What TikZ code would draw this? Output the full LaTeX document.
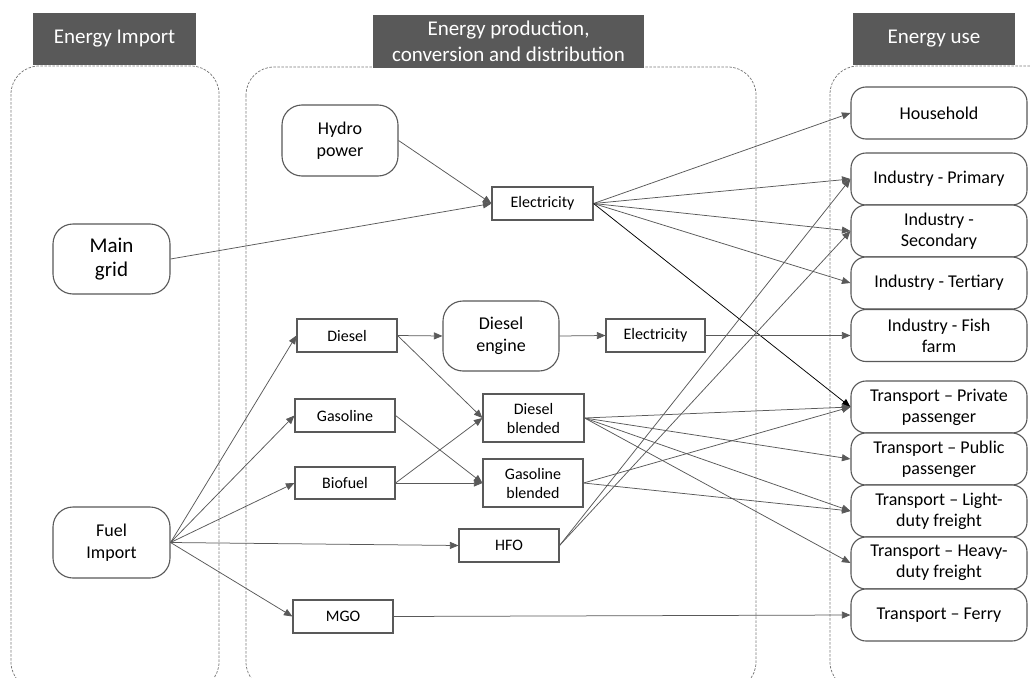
\documentclass[tikz,border=0pt]{standalone}
\usepackage{fontspec}
\setmainfont{Carlito}
\usetikzlibrary{arrows.meta}
\definecolor{hdr}{HTML}{595959}
\definecolor{edgec}{HTML}{595959}
\definecolor{dashc}{HTML}{7A7A7A}
\begin{document}
\begin{tikzpicture}[x=1pt,y=-1pt,
  hdrbox/.style={fill=hdr, text=white, inner sep=0pt, align=center, font=\fontsize{21}{25.5}\selectfont},
  bigbox/.style={draw=edgec, line width=1.1pt, rounded corners=20pt, fill=white, align=center, inner sep=0pt, text=black, font=\fontsize{18}{22}\selectfont},
  usebox/.style={draw=edgec, line width=1.1pt, rounded corners=15pt, fill=white, align=center, inner sep=0pt, text=black, minimum width=176pt, minimum height=52pt, font=\fontsize{18}{21}\selectfont},
  sbox/.style={draw=edgec, line width=1.1pt, fill=white, align=center, inner sep=0pt, text=black, minimum width=100pt, minimum height=33pt, font=\fontsize{16}{19}\selectfont},
  container/.style={draw=dashc, dash pattern=on 2.5pt off 1.5pt, line width=0.75pt, rounded corners=28pt},
  arr/.style={draw=edgec, line width=0.75pt, -{Triangle[length=8.5pt,width=7pt]}},
  arrk/.style={draw=black, line width=0.75pt, -{Triangle[length=8.5pt,width=7pt]}}
]
\useasboundingbox (0,0) rectangle (1030,677);
\clip (0,0) rectangle (1030,677);
\fill[white] (0,0) rectangle (1030,677);

% containers
\draw[container] (11,66) rectangle (219,690);
\draw[container] (246,67) rectangle (756,690);
\draw[container] (830,66) rectangle (1070,690);

% headers
\node[hdrbox, minimum width=163pt, minimum height=52pt] (h1) at (114.5,39) {Energy Import};
\node[hdrbox, minimum width=271pt, minimum height=53pt] (h2) at (508.5,41.5) {Energy production,\\conversion and distribution};
\node[hdrbox, minimum width=162pt, minimum height=52pt] (h3) at (934,39) {Energy use};

% left / middle nodes
\node[bigbox, minimum width=116pt, minimum height=71pt] (hydro) at (340,140.5) {Hydro\\power};
\node[bigbox, minimum width=117pt, minimum height=70pt, font=\fontsize{21}{24}\selectfont] (grid) at (111.5,259) {Main\\grid};
\node[bigbox, minimum width=117pt, minimum height=71pt] (fuel) at (111.5,542.5) {Fuel\\Import};
\node[bigbox, minimum width=116pt, minimum height=70pt] (dengine) at (501,336) {Diesel\\engine};

\node[sbox, minimum width=101pt] (elec1) at (542.5,203.5) {Electricity};
\node[sbox] (diesel) at (347,335.5) {Diesel};
\node[sbox, minimum width=99pt] (elec2) at (655.5,335.5) {Electricity};
\node[sbox] (gasoline) at (345,415.5) {Gasoline};
\node[sbox, minimum width=101pt, minimum height=48pt] (dblend) at (533.5,418) {Diesel\\blended};
\node[sbox, minimum height=32pt] (biofuel) at (345,483) {Biofuel};
\node[sbox, minimum height=48pt] (gblend) at (533,483) {Gasoline\\blended};
\node[sbox] (hfo) at (509,545.5) {HFO};
\node[sbox] (mgo) at (343,616.5) {MGO};

% energy use nodes
\node[usebox] (household) at (939,113) {Household};
\node[usebox] (indp) at (939,179) {Industry - Primary};
\node[usebox] (inds) at (939,231) {Industry -\\Secondary};
\node[usebox] (indt) at (939,283) {Industry - Tertiary};
\node[usebox] (fish) at (939,335.5) {Industry - Fish\\farm};
\node[usebox] (tpriv) at (939,407) {Transport – Private\\passenger};
\node[usebox] (tpub) at (939,459) {Transport – Public\\passenger};
\node[usebox] (tlight) at (939,511) {Transport – Light-\\duty freight};
\node[usebox] (theavy) at (939,563) {Transport – Heavy-\\duty freight};
\node[usebox] (ferry) at (939,615) {Transport – Ferry};

% connectors
\draw[arr] (hydro.east) -- (elec1.west);
\draw[arr] (grid.east) -- (elec1.west);
\draw[arr] (elec1.east) -- (household.west);
\draw[arr] (elec1.east) -- (indp.west);
\draw[arr] (elec1.east) -- (inds.west);
\draw[arr] (elec1.east) -- (indt.west);
\draw[arrk] (elec1.east) -- (tpriv.west);

\draw[arr] (fuel.east) -- (diesel.west);
\draw[arr] (fuel.east) -- (gasoline.west);
\draw[arr] (fuel.east) -- (biofuel.west);
\draw[arr] (fuel.east) -- (hfo.west);
\draw[arr] (fuel.east) -- (mgo.west);

\draw[arr] (diesel.east) -- (dengine.west);
\draw[arr] (diesel.east) -- (dblend.west);
\draw[arr] (dengine.east) -- (elec2.west);
\draw[arr] (elec2.east) -- (fish.west);
\draw[arr] (gasoline.east) -- (gblend.west);
\draw[arr] (biofuel.east) -- (dblend.west);
\draw[arr] (biofuel.east) -- (gblend.west);

\draw[arr] (dblend.east) -- (tpriv.west);
\draw[arr] (dblend.east) -- (tpub.west);
\draw[arr] (dblend.east) -- (tlight.west);
\draw[arr] (dblend.east) -- (theavy.west);
\draw[arr] (gblend.east) -- (tpriv.west);
\draw[arr] (gblend.east) -- (tlight.west);

\draw[arr] (hfo.east) -- (indp.west);
\draw[arr] (hfo.east) -- (inds.west);
\draw[arr] (mgo.east) -- (ferry.west);
\end{tikzpicture}
\end{document}
